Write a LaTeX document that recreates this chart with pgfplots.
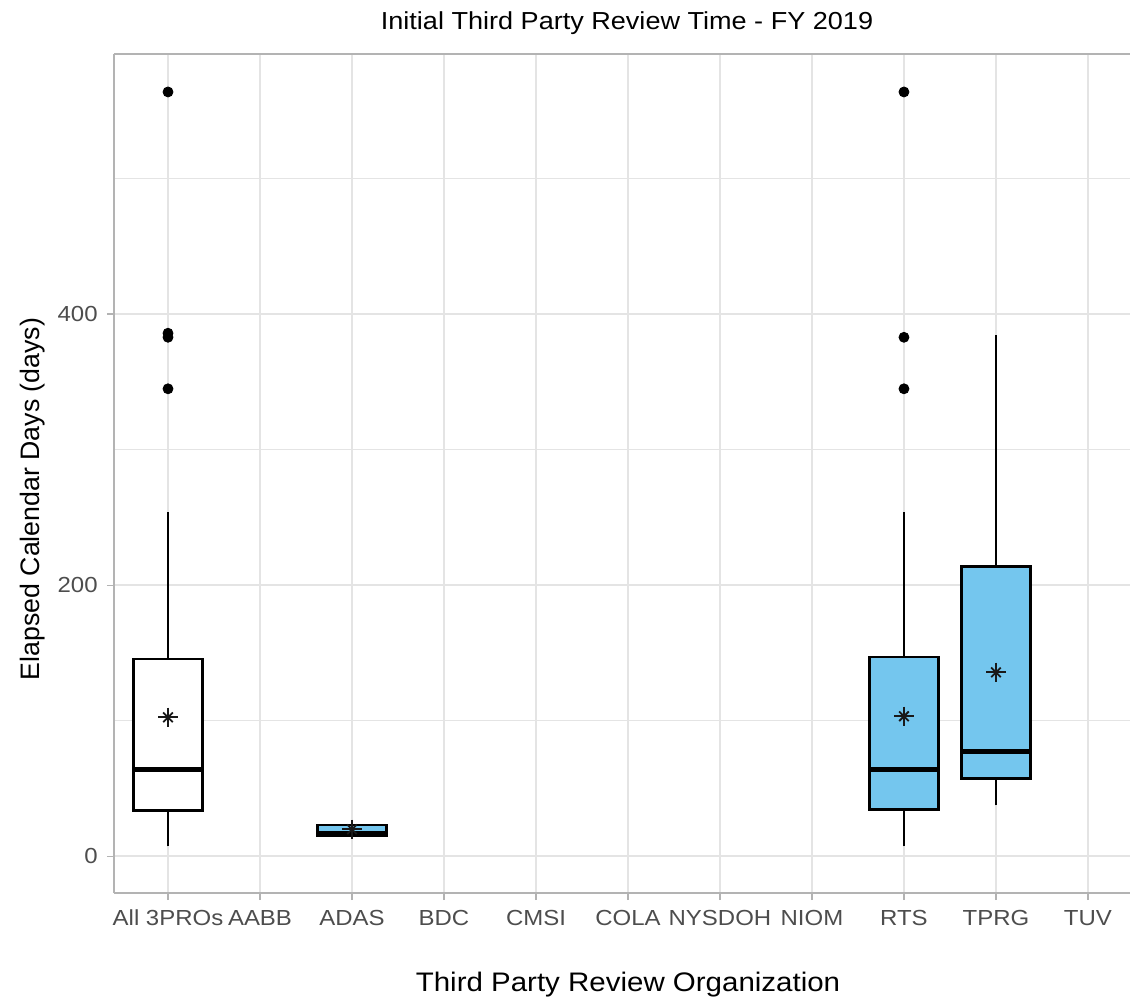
\documentclass[border=0pt]{standalone}
\usepackage{fontspec}
\setmainfont{Liberation Sans}[FakeStretch=1.1]
\newfontfamily\plainsans{Liberation Sans}
\usepackage{pgfplots}
\pgfplotsset{compat=1.18}
\definecolor{boxblue}{RGB}{116,198,238}
\definecolor{gridc}{RGB}{228,228,228}
\definecolor{borderc}{RGB}{179,179,179}
\definecolor{tickc}{RGB}{77,77,77}
\begin{document}
\begin{tikzpicture}
\useasboundingbox (-57pt,-55pt) rectangle (508pt,446.5pt);
\begin{axis}[
  at={(0,0)}, anchor=south west, scale only axis,
  width=508pt, height=419.5pt,
  xmin=-0.587, xmax=10.457, ymin=-27, ymax=592,
  axis x line*=bottom, axis y line*=left,
  axis line style={draw=borderc, line width=0.8pt},
  xtick={0,1,2,3,4,5,6,7,8,9,10},
  xticklabels={All 3PROs, AABB, ADAS, BDC, CMSI, COLA, NYSDOH, NIOM, RTS, TPRG, TUV},
  ytick={0,200,400}, minor ytick={100,300,500},
  grid=both,
  major grid style={draw=gridc, line width=1pt},
  minor grid style={draw=gridc, line width=0.6pt},
  tick align=outside, major tick length=3.5pt,
  major tick style={draw=borderc, line width=0.8pt},
  minor tick style={draw=none},
  ticklabel style={font=\fontsize{10.9}{12}\selectfont, text=tickc},
  xticklabel style={anchor=base, inner sep=0pt, yshift=-12.5pt},
  yticklabel style={anchor=east, inner sep=0pt, xshift=-4.5pt},
  /pgf/number format/assume math mode=true,
  clip=false,
]
% ---- All 3PROs (x=0): whiskers, box, median
\addplot[black, line width=1.2pt] coordinates {(0,7.4) (0,34)};
\addplot[black, line width=1.2pt] coordinates {(0,145.5) (0,254)};
\addplot[draw=black, line width=1.2pt, fill=white]
  coordinates {(-0.375,34) (0.375,34) (0.375,145.5) (-0.375,145.5)} -- cycle;
\addplot[black, line width=2.5pt] coordinates {(-0.375,64) (0.375,64)};
% ---- ADAS (x=2)
\addplot[black, line width=1.2pt] coordinates {(2,15) (2,24)};
\addplot[draw=black, line width=1.2pt, fill=boxblue]
  coordinates {(1.625,15.5) (2.375,15.5) (2.375,23) (1.625,23)} -- cycle;
\addplot[black, line width=2.5pt] coordinates {(1.625,17) (2.375,17)};
% ---- RTS (x=8)
\addplot[black, line width=1.2pt] coordinates {(8,7.4) (8,34.7)};
\addplot[black, line width=1.2pt] coordinates {(8,147) (8,254)};
\addplot[draw=black, line width=1.2pt, fill=boxblue]
  coordinates {(7.625,34.7) (8.375,34.7) (8.375,147) (7.625,147)} -- cycle;
\addplot[black, line width=2.5pt] coordinates {(7.625,64) (8.375,64)};
% ---- TPRG (x=9)
\addplot[black, line width=1.2pt] coordinates {(9,37.6) (9,57.6)};
\addplot[black, line width=1.2pt] coordinates {(9,214) (9,385)};
\addplot[draw=black, line width=1.2pt, fill=boxblue]
  coordinates {(8.625,57.6) (9.375,57.6) (9.375,214) (8.625,214)} -- cycle;
\addplot[black, line width=2.5pt] coordinates {(8.625,77.3) (9.375,77.3)};
% outliers
\addplot[only marks, mark=*, mark size=2.5pt, black]
  coordinates {(0,564) (0,386) (0,383) (0,345) (8,564) (8,383) (8,345)};
% means
\addplot[only marks, mark=+, mark size=4.8pt, line width=0.9pt, black!90]
  coordinates {(0,102.6) (2,20) (8,103.4) (9,135.8)};
\addplot[only marks, mark=x, mark size=3.4pt, line width=0.9pt, black!90]
  coordinates {(0,102.6) (2,20) (8,103.4) (9,135.8)};
\draw[borderc, line width=0.8pt] (rel axis cs:0,1) -- (rel axis cs:1,1);
\end{axis}
\node[anchor=base, font=\fontsize{12.3}{14}\selectfont] at (256.5pt,431.5pt)
  {Initial Third Party Review Time - FY 2019};
\node[anchor=base, font=\fontsize{13.4}{16}\selectfont] at (257pt,-49pt)
  {Third Party Review Organization};
\node[anchor=base, rotate=90, font=\plainsans\fontsize{13.35}{16}\selectfont] at (-37pt,197pt)
  {Elapsed Calendar Days (days)};
\end{tikzpicture}
\end{document}
